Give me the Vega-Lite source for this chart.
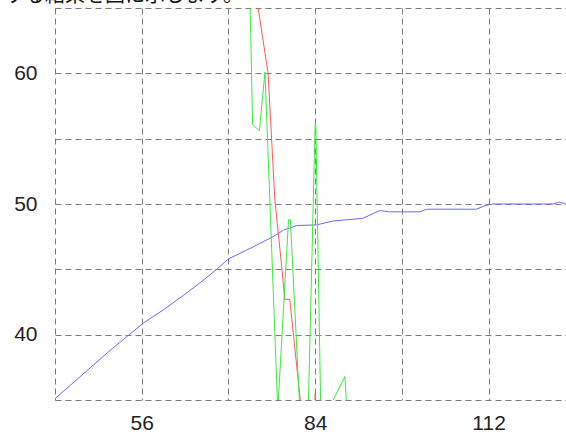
{
  "$schema": "https://vega.github.io/schema/vega-lite/v6.json",
  "width": 511,
  "height": 392,
  "autosize": {"type": "none"},
  "padding": {"left": 55, "top": 8, "right": 0, "bottom": 34},
  "background": "white",
  "config": {"view": {"stroke": null}},
  "datasets": {
    "lines": [
      {"s": "blue", "x": 42, "y": 35.1},
      {"s": "blue", "x": 50.9, "y": 38.8},
      {"s": "blue", "x": 56.3, "y": 40.9},
      {"s": "blue", "x": 59.5, "y": 41.9},
      {"s": "blue", "x": 62.7, "y": 43.0},
      {"s": "blue", "x": 65.5, "y": 44.0},
      {"s": "blue", "x": 68.1, "y": 45.0},
      {"s": "blue", "x": 70, "y": 45.8},
      {"s": "blue", "x": 73.5, "y": 46.6},
      {"s": "blue", "x": 77.2, "y": 47.5},
      {"s": "blue", "x": 78.9, "y": 48.0},
      {"s": "blue", "x": 81, "y": 48.35},
      {"s": "blue", "x": 84.2, "y": 48.4},
      {"s": "blue", "x": 86.9, "y": 48.7},
      {"s": "blue", "x": 91.7, "y": 48.9},
      {"s": "blue", "x": 94.4, "y": 49.5},
      {"s": "blue", "x": 96, "y": 49.4},
      {"s": "blue", "x": 100.9, "y": 49.4},
      {"s": "blue", "x": 102, "y": 49.6},
      {"s": "blue", "x": 110, "y": 49.6},
      {"s": "blue", "x": 111.6, "y": 49.9},
      {"s": "blue", "x": 112.7, "y": 50.0},
      {"s": "blue", "x": 122.4, "y": 50.0},
      {"s": "blue", "x": 123.4, "y": 50.15},
      {"s": "blue", "x": 124.5, "y": 50.0},
      {"s": "red", "x": 74.3, "y": 68},
      {"s": "red", "x": 74.8, "y": 65},
      {"s": "red", "x": 76.4, "y": 60},
      {"s": "red", "x": 77.5, "y": 50.3},
      {"s": "red", "x": 78.6, "y": 45.2},
      {"s": "red", "x": 79.1, "y": 42.7},
      {"s": "red", "x": 79.9, "y": 42.7},
      {"s": "red", "x": 81.6, "y": 35},
      {"s": "red", "x": 82.5, "y": 32},
      {"s": "red", "x": 83.8, "y": 33},
      {"s": "red", "x": 84.0, "y": 35.5},
      {"s": "red", "x": 84.2, "y": 33},
      {"s": "red", "x": 86, "y": 30},
      {"s": "green", "x": 73.3, "y": 70},
      {"s": "green", "x": 73.9, "y": 56.1},
      {"s": "green", "x": 75.0, "y": 55.6},
      {"s": "green", "x": 75.9, "y": 60.1},
      {"s": "green", "x": 77.9, "y": 35},
      {"s": "green", "x": 78.0, "y": 34.5},
      {"s": "green", "x": 79.7, "y": 48.8},
      {"s": "green", "x": 80.0, "y": 48.8},
      {"s": "green", "x": 81.5, "y": 34.5},
      {"s": "green", "x": 82.9, "y": 34.5},
      {"s": "green", "x": 84.0, "y": 56.1},
      {"s": "green", "x": 84.1, "y": 56.1},
      {"s": "green", "x": 84.9, "y": 34.5},
      {"s": "green", "x": 86.7, "y": 34.8},
      {"s": "green", "x": 88.8, "y": 36.8},
      {"s": "green", "x": 89.1, "y": 34.5},
      {"s": "green", "x": 92, "y": 33}
    ],
    "caption": [
      {"x": 42, "y": 65, "t": "する結果を図に示します。"}
    ]
  },
  "layer": [
    {
      "data": {"name": "lines"},
      "mark": {"type": "line", "strokeWidth": 1, "clip": true, "interpolate": "linear"},
      "encoding": {
        "x": {
          "field": "x", "type": "quantitative",
          "scale": {"domain": [42, 124.5], "nice": false, "zero": false},
          "axis": {
            "title": null, "values": [42, 56, 70, 84, 98, 112], "domain": false, "ticks": false,
            "grid": true, "gridColor": "#7a7a7a", "gridDash": [6, 4], "gridWidth": 1,
            "labelExpr": "datum.value % 28 == 0 ? datum.label : ''",
            "labelFont": "Liberation Sans", "labelFontSize": 21, "labelColor": "#222", "labelPadding": 12
          }
        },
        "y": {
          "field": "y", "type": "quantitative",
          "scale": {"domain": [35, 65], "nice": false, "zero": false},
          "axis": {
            "title": null, "values": [35, 40, 45, 50, 55, 60, 65], "domain": false, "ticks": false,
            "grid": true, "gridColor": "#7a7a7a", "gridDash": [6, 4], "gridWidth": 1,
            "labelExpr": "datum.value % 10 == 0 ? datum.label : ''",
            "labelFont": "Liberation Sans", "labelFontSize": 21, "labelColor": "#222", "labelPadding": 18
          }
        },
        "color": {
          "field": "s", "type": "nominal",
          "scale": {"domain": ["blue", "red", "green"], "range": ["#6a6aff", "#ff5a5a", "#3ee83e"]},
          "legend": null
        },
        "order": {"field": "x", "type": "quantitative"}
      }
    },
    {
      "data": {"name": "caption"},
      "mark": {"type": "text", "align": "left", "baseline": "bottom", "dx": -50, "dy": -2, "fontSize": 20, "font": "Noto Sans CJK JP", "color": "#111", "clip": false},
      "encoding": {
        "x": {"field": "x", "type": "quantitative"},
        "y": {"field": "y", "type": "quantitative"},
        "text": {"field": "t"}
      }
    }
  ]
}
